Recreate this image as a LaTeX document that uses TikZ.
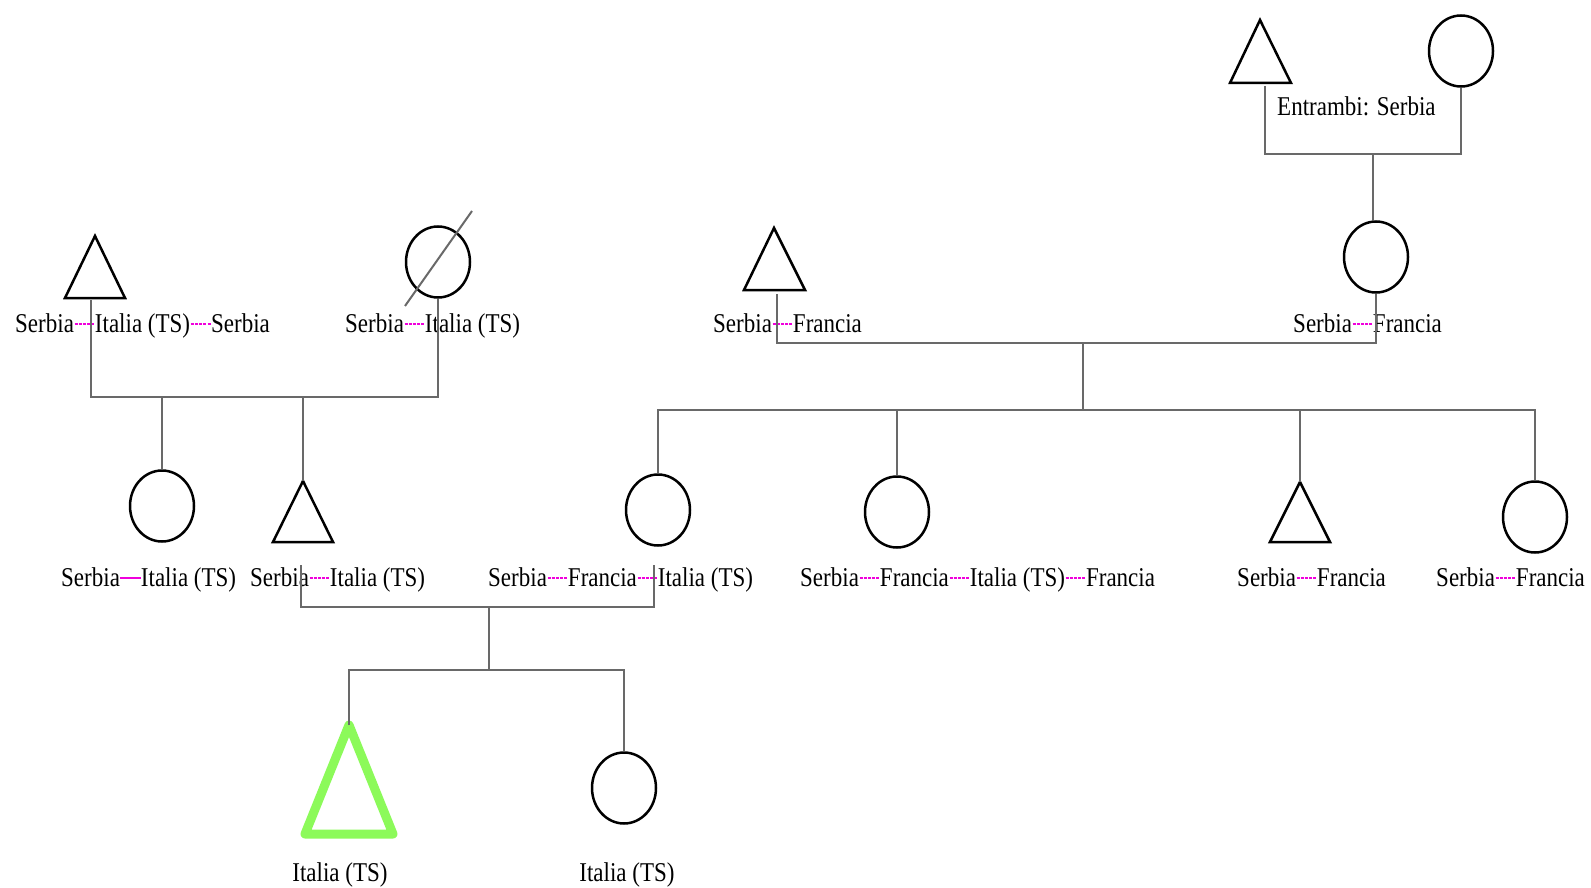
\documentclass[tikz,border=0pt]{standalone}
\usepackage{fontspec}
\usepackage{graphicx}
\setmainfont{Liberation Serif}
\usetikzlibrary{shapes.geometric}
\definecolor{sepc}{RGB}{240,0,220}
\definecolor{connc}{RGB}{105,105,105}
\definecolor{greenc}{RGB}{140,250,90}
\newcommand\sepD{{\color{sepc}\xleaders\hbox to 4.2pt{\hss\rule[6.3pt]{3pt}{1.7pt}\hss}\hskip 21pt}}
\newcommand\sepS{{\color{sepc}\rule[6.3pt]{21pt}{1.7pt}}}
\newcommand\lbl[1]{\scalebox{1}[1.18]{#1}}
\tikzset{
  conn/.style={draw=connc, line width=2pt},
  sym/.style={draw=black, line width=2.5pt, line join=miter},
  circ/.style={ellipse, draw=black, line width=2.5pt, minimum width=64pt, minimum height=71pt, inner sep=0pt},
  lab/.style={inner sep=0pt, font=\fontsize{23}{26}\selectfont, text=black},
  gsym/.style={draw=greenc, line width=9pt, line join=round},
}
\begin{document}
\begin{tikzpicture}[x=1pt,y=-1pt]
\useasboundingbox[fill=white] (0,0) rectangle (1591,888);

% ---------- top couple ----------
\coordinate (gfA) at (1260,20);
\draw[sym] (gfA) -- ++(31,63) -- ++(-61,0) -- cycle;
\coordinate (gfb) at (1265,86);
\node[circ] (gm) at (1461,51) {};
\node[lab, anchor=base west] (tEnt) at (1277,116) {\lbl{Entrambi: Serbia}};
\coordinate (c1) at (1373,154);

% ---------- right couple ----------
\coordinate (fRA) at (774,228);
\draw[sym] (fRA) -- ++(31,62) -- ++(-61,0) -- cycle;
\coordinate (fRb) at (777,294);
\node[circ] (mR) at (1376,257) {};
\node[lab, anchor=base west] (tfR) at (713,332) {\lbl{Serbia\sepD Francia}};
\node[lab, anchor=base west] (tmR) at (1293,332) {\lbl{Serbia\sepD Francia}};
\coordinate (c2) at (1083,343);
\coordinate (s2) at (1083,410);

% children of right couple
\node[circ] (ch1) at (658,510) {};
\node[circ] (ch2) at (897,512) {};
\coordinate (ch3A) at (1300,482);
\draw[sym] (ch3A) -- ++(30,60) -- ++(-60,0) -- cycle;
\node[circ] (ch4) at (1535,517) {};
\node[lab, anchor=base west] (tch1) at (488,586) {\lbl{Serbia\sepD Francia\sepD Italia (TS)}};
\node[lab, anchor=base west] (tch2) at (800,586) {\lbl{Serbia\sepD Francia\sepD Italia (TS)\sepD Francia}};
\node[lab, anchor=base west] (tch3) at (1237,586) {\lbl{Serbia\sepD Francia}};
\node[lab, anchor=base west] (tch4) at (1436,586) {\lbl{Serbia\sepD Francia}};

% ---------- left couple ----------
\coordinate (fLA) at (95,236);
\draw[sym] (fLA) -- ++(30,62) -- ++(-60,0) -- cycle;
\coordinate (fLb) at (91,300);
\node[circ] (mL) at (438,262) {};
\draw[conn] (405,306) -- (472,211);
\node[lab, anchor=base west] (tfL) at (15,332) {\lbl{Serbia\sepD Italia (TS)\sepD Serbia}};
\node[lab, anchor=base west] (tmL) at (345,332) {\lbl{Serbia\sepD Italia (TS)}};
\coordinate (c3) at (304,397);

% children of left couple
\node[circ] (cL) at (162,506) {};
\coordinate (tLA) at (303,481);
\draw[sym] (tLA) -- ++(30,61) -- ++(-60,0) -- cycle;
\node[lab, anchor=base west] (tcL) at (61,586) {\lbl{Serbia\sepS Italia (TS)}};
\node[lab, anchor=base west] (ttL) at (250,586) {\lbl{Serbia\sepD Italia (TS)}};

% ---------- bottom couple ----------
\coordinate (p1) at (301,565);
\coordinate (p2) at (654,565);
\coordinate (c4) at (489,607);
\coordinate (s4) at (489,670);
\coordinate (gA) at (349,725);
\draw[gsym] (gA) -- ++(44,109) -- ++(-88,0) -- cycle;
\node[circ] (gc) at (624,788) {};
\node[lab, anchor=base] (tg1) at (340,881) {\lbl{Italia (TS)}};
\node[lab, anchor=base] (tg2) at (627,881) {\lbl{Italia (TS)}};

% ---------- connectors ----------
\draw[conn] (gfb) |- (c1) -| (gm.south);
\draw[conn] (c1) -- (c1 |- mR.north);
\draw[conn] (fRb) |- (c2) -| (mR.south);
\draw[conn] (c2) -- (s2);
\draw[conn] (ch1.north) |- (s2) -| (ch4.north);
\draw[conn] (ch2.north) -- (ch2.north |- s2);
\draw[conn] (ch3A) -- (ch3A |- s2);
\draw[conn] (fLb) |- (c3) -| (mL.south);
\draw[conn] (tLA) -- (tLA |- c3);
\draw[conn] (cL.north) -- (cL.north |- c3);
\draw[conn] (p1) |- (c4) -| (p2);
\draw[conn] (c4) -- (s4);
\draw[conn] (gA) |- (s4) -| (gc.north);
\end{tikzpicture}
\end{document}
